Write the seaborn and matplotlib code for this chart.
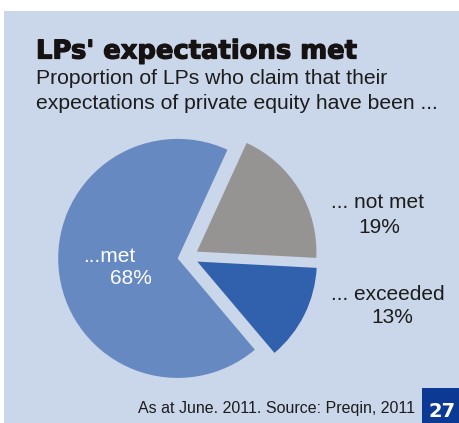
import matplotlib
matplotlib.use("Agg")
import matplotlib.pyplot as plt
import matplotlib.patheffects as pe
import seaborn as sns
from matplotlib.patches import Rectangle

# ---- data ----
categories = ["...met", "... exceeded", "... not met"]
values = [68, 13, 19]
title = "LPs' expectations met"
subtitle_lines = ["Proportion of LPs who claim that their",
                  "expectations of private equity have been ..."]
footer = "As at June. 2011. Source: Preqin, 2011"
page_number = "27"

# ---- style ----
sns.set_theme(style="white")
plt.rcParams['font.family'] = ['Liberation Sans', 'DejaVu Sans']
colors = ["#6689C2", "#3160AC", "#959493"]
panel_color = "#CAD6E9"
box_color = "#0B3994"
text_color = "#1C1C1C"

W, H = 460, 423
fig = plt.figure(figsize=(W / 100, H / 100), dpi=100, facecolor="white")
ax = fig.add_axes([0, 0, 1, 1])

def Y(y):
    return H - y

# panel background
ax.add_patch(Rectangle((4, 0), W - 4, H - 11, facecolor=panel_color,
                       edgecolor="none", zorder=0))

# pie
wedges, _ = ax.pie(values, colors=colors, startangle=65.4, counterclock=True,
                   radius=119.5, center=(188, Y(257)), explode=[10.4] * 3,
                   wedgeprops=dict(edgecolor="none", linewidth=0))
for w in wedges:
    w.set_zorder(2)

ax.set_xlim(0, W)
ax.set_ylim(0, H)
ax.set_aspect("equal")
ax.axis("off")

# titles
ax.text(36, Y(58.5), title, fontsize=18.6, fontweight="bold",
        family="DejaVu Sans", color="#161212", va="baseline", ha="left",
        path_effects=[pe.withStroke(linewidth=0.9, foreground="#161212")])
for line, yb in zip(subtitle_lines, [83.7, 108.7]):
    ax.text(36, Y(yb), line, fontsize=15.2, color=text_color,
            va="baseline", ha="left")

# pie labels
lab_fs = 15
ax.text(83.3, Y(261.7), categories[0], fontsize=lab_fs, color="white",
        va="baseline", ha="left", zorder=3)
ax.text(110, Y(284), f"{values[0]}%", fontsize=lab_fs, color="white",
        va="baseline", ha="left", zorder=3)

ax.text(377.5, Y(208), categories[2], fontsize=lab_fs, color=text_color,
        va="baseline", ha="center")
ax.text(379.5, Y(233), f"{values[2]}%", fontsize=lab_fs, color=text_color,
        va="baseline", ha="center")

ax.text(388, Y(300), categories[1], fontsize=lab_fs, color=text_color,
        va="baseline", ha="center")
ax.text(392.5, Y(323), f"{values[1]}%", fontsize=lab_fs, color=text_color,
        va="baseline", ha="center")

# footer
ax.text(415, Y(413), footer, fontsize=11.5, color=text_color,
        va="baseline", ha="right")
ax.add_patch(Rectangle((422, 0), W - 422, H - 388, facecolor=box_color,
                       edgecolor="none", zorder=1))
ax.text(442, Y(417.3), page_number, fontsize=14, fontweight="bold",
        family="DejaVu Sans", color="white", va="baseline", ha="center",
        zorder=3)

fig.savefig("out.png", dpi=100, facecolor="white")
